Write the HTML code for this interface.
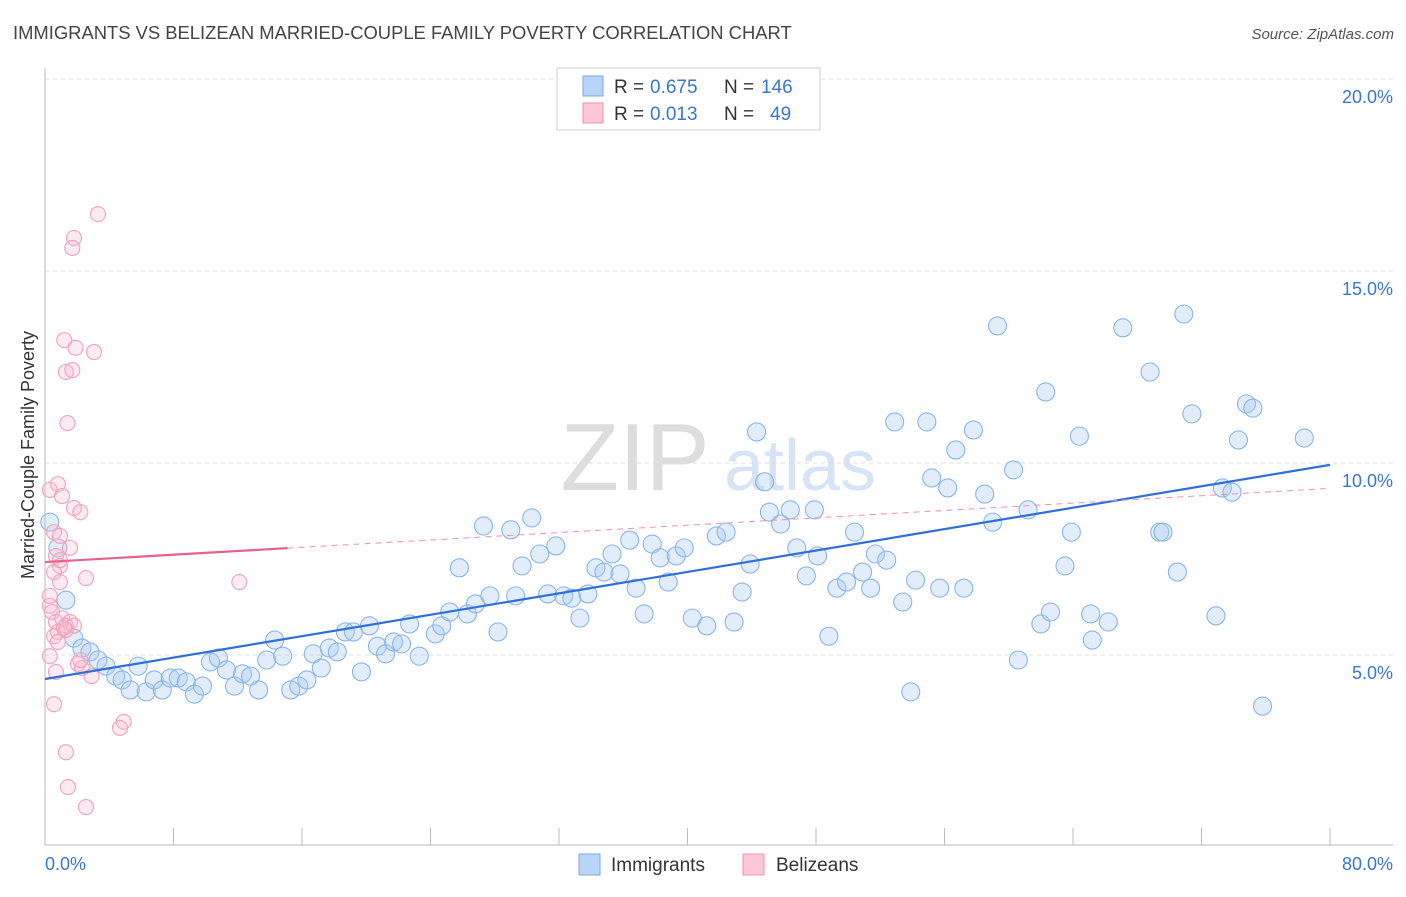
<!DOCTYPE html>
<html><head><meta charset="utf-8"><style>
body{margin:0;background:#fff;font-family:"Liberation Sans",sans-serif}
svg text{font-family:"Liberation Sans",sans-serif}
</style></head><body>
<svg id="c" width="1406" height="892">
<text x="13" y="39" font-size="18.4" fill="#444">IMMIGRANTS VS BELIZEAN MARRIED-COUPLE FAMILY POVERTY CORRELATION CHART</text>
<text x="1394" y="39" font-size="15" fill="#555" font-style="italic" text-anchor="end">Source: ZipAtlas.com</text>
<g><text x="635" y="490" font-size="96" fill="#ddd" font-family="Liberation Serif" text-anchor="middle">ZIP</text><text x="800" y="490" font-size="72" fill="#d6e4f5" text-anchor="middle">atlas</text></g>
<g id="grid"></g><g id="pts"></g><g id="lines"></g>
<text transform="translate(34,455) rotate(-90)" font-size="18" fill="#333" text-anchor="middle">Married-Couple Family Poverty</text>
<g>
<rect x="557" y="68" width="263" height="62" fill="#fff" stroke="#ccc"/>
<rect x="583" y="76" width="20" height="20" fill="#b8d4f8" stroke="#7aa8e0"/>
<text x="614" y="93" font-size="19" fill="#333">R =</text><text x="650" y="93" font-size="19" fill="#3a76d0">0.675</text>
<text x="724" y="93" font-size="19" fill="#333">N =</text><text x="761" y="93" font-size="19" fill="#3a76d0">146</text>
<rect x="583" y="103" width="20" height="20" fill="#fcc8d8" stroke="#f090b0"/>
<text x="614" y="120" font-size="19" fill="#333">R =</text><text x="650" y="120" font-size="19" fill="#3a76d0">0.013</text>
<text x="724" y="120" font-size="19" fill="#333">N =</text><text x="770" y="120" font-size="19" fill="#3a76d0">49</text>
</g>
<g>
<rect x="579" y="854" width="21" height="21" fill="#b8d4f8" stroke="#7aa8e0"/>
<text x="611" y="871" font-size="19" fill="#333">Immigrants</text>
<rect x="743" y="854" width="21" height="21" fill="#fcc8d8" stroke="#f090b0"/>
<text x="776" y="871" font-size="19" fill="#333">Belizeans</text>
</g>
</svg>
<script>
const yTicks=[5,10,15,20];
const yTickLabels=["5.0%","10.0%","15.0%","20.0%"];
const xTickVals=[0,8,16,24,32,40,48,56,64,72,80];
const xLabels=["0.0%","80.0%"];
const blueX=[0.3,0.8,1.3,1.8,2.3,2.8,3.3,3.8,4.4,4.8,5.3,5.8,6.3,6.8,7.3,7.8,8.3,8.8,9.3,9.8,10.3,10.8,11.3,11.8,12.3,12.8,13.3,13.8,14.3,14.8,15.3,15.8,16.3,16.7,17.2,17.7,18.2,18.7,19.2,19.7,20.2,20.7,21.2,21.7,22.2,22.7,23.3,24.3,24.7,25.2,25.8,26.3,26.8,27.3,27.7,28.2,29.0,29.3,29.7,30.3,30.8,31.3,31.8,32.3,32.8,33.3,33.8,34.3,34.8,35.3,35.8,36.4,36.8,37.3,37.8,38.3,38.8,39.3,39.8,40.3,41.2,41.8,42.4,42.9,43.4,43.9,44.3,44.8,45.1,45.8,46.4,46.8,47.4,47.9,48.1,48.8,49.3,49.9,50.4,50.9,51.4,51.7,52.4,52.9,53.4,53.9,54.2,54.9,55.2,55.7,56.2,56.7,57.2,57.8,58.5,59.0,59.3,60.3,60.6,61.2,62.0,62.3,62.6,63.5,63.9,64.4,65.1,65.2,66.2,67.1,68.8,69.4,69.6,70.5,70.9,71.4,72.9,73.3,73.9,74.3,74.8,75.2,75.8,78.4];
const blueY=[8.46,7.79,6.43,5.44,5.18,5.08,4.87,4.71,4.45,4.35,4.09,4.71,4.04,4.35,4.09,4.40,4.40,4.30,3.98,4.19,4.82,4.92,4.61,4.19,4.51,4.45,4.09,4.87,5.39,4.97,4.09,4.19,4.35,5.03,4.66,5.18,5.08,5.60,5.60,4.56,5.76,5.23,5.03,5.34,5.29,5.81,4.97,5.55,5.76,6.12,7.27,6.07,6.33,8.36,6.54,5.60,8.26,6.54,7.32,8.57,7.63,6.59,7.84,6.54,6.48,5.96,6.59,7.27,7.16,7.63,7.11,7.99,6.74,6.07,7.89,7.53,6.90,7.58,7.79,5.96,5.76,8.10,8.20,5.86,6.64,7.37,10.81,9.51,8.72,8.41,8.78,7.79,7.06,8.78,7.58,5.49,6.74,6.90,8.20,7.16,6.74,7.63,7.47,11.07,6.38,4.04,6.95,11.07,9.61,6.74,9.35,10.34,6.74,10.86,9.19,8.46,13.57,9.82,4.87,8.78,5.81,11.85,6.12,7.32,8.20,10.70,6.07,5.39,5.86,13.52,12.37,8.20,8.20,7.16,13.88,11.28,6.02,9.35,9.24,10.60,11.54,11.43,3.67,10.65];
const pinkX=[3.3,1.8,1.7,1.2,1.9,3.05,1.3,1.7,1.4,0.8,1.06,0.3,1.8,2.2,0.56,0.93,1.56,0.68,0.93,0.56,2.55,0.93,12.1,0.3,0.44,0.68,1.06,1.56,1.3,1.8,0.8,1.3,0.56,0.8,0.3,2.05,2.3,2.9,0.68,0.56,4.9,4.67,1.3,1.43,2.55,0.3,0.93,1.18,2.2];
const pinkY=[16.48,15.86,15.6,13.2,13.0,12.89,12.37,12.42,11.04,9.45,9.14,9.3,8.83,8.72,8.2,8.1,7.79,7.58,7.32,7.16,7.0,6.9,6.9,6.28,6.12,5.86,5.96,5.86,5.76,5.76,5.6,5.65,5.49,5.34,4.97,4.77,4.66,4.45,4.56,3.72,3.26,3.1,2.47,1.56,1.04,6.54,7.47,5.7,4.87];
const blueTrend=[4.375,0.0697];
const pinkTrend=[7.42,0.0240];
const NS="http://www.w3.org/2000/svg";
const X0=45,X1=1330,Y0=847,PXY=38.4;
const sx=v=>X0+(X1-X0)*v/80, sy=v=>Y0-v*PXY;
function mk(t,a,p){const e=document.createElementNS(NS,t);for(const k in a)e.setAttribute(k,a[k]);p.appendChild(e);return e;}
const g=document.getElementById('grid');
yTicks.forEach((v,i)=>{
 const l=mk('line',{x1:45,x2:1393,y1:sy(v),y2:sy(v),stroke:'#ddd','stroke-dasharray':'4,4'},g);
 
 
 const t=mk('text',{x:1393,y:sy(v)+24,'font-size':18,fill:'#3a76d0','text-anchor':'end'},g);
 t.textContent=yTickLabels[i];
 
 
});
const ax=mk('line',{x1:45,x2:45,y1:68,y2:845,stroke:'#bbb'},g);


const bx=mk('line',{x1:45,x2:1393,y1:845,y2:845,stroke:'#bbb'},g);


xTickVals.forEach(v=>{
 const t=mk('line',{x1:sx(v),x2:sx(v),y1:828,y2:845,stroke:'#bbb'},g);
 
 
});
[[0,'start'],[80,'end']].forEach((a,i)=>{
 const t=mk('text',{x:i?1393:45,y:870,'font-size':18,fill:'#3a76d0','text-anchor':a[1]},g);
 t.textContent=xLabels[i];
 
 
});
const p=document.getElementById('pts');
blueX.forEach((v,i)=>{
 const c=mk('circle',{cx:sx(v),cy:sy(blueY[i]),r:9,fill:'rgba(170,202,242,0.35)',stroke:'#8ab4e8','stroke-width':1.1},p);
 
 
});
pinkX.forEach((v,i)=>{
 const c=mk('circle',{cx:sx(v),cy:sy(pinkY[i]),r:7.5,fill:'rgba(250,190,208,0.3)',stroke:'#f3a0bc','stroke-width':1.1},p);
 
 
});
const L=document.getElementById('lines');
const b=mk('line',{x1:sx(0),y1:sy(blueTrend[0]),x2:sx(80),y2:sy(blueTrend[0]+80*blueTrend[1]),stroke:'#2f6fd8','stroke-width':2.2},L);


const pe=15.1;
const pd=mk('line',{x1:sx(pe),y1:sy(pinkTrend[0]+pe*pinkTrend[1]),x2:sx(80),y2:sy(pinkTrend[0]+80*pinkTrend[1]),stroke:'#f090b0','stroke-width':1,'stroke-dasharray':'6,5'},L);


const ps=mk('line',{x1:sx(0),y1:sy(pinkTrend[0]),x2:sx(pe),y2:sy(pinkTrend[0]+pe*pinkTrend[1]),stroke:'#e8608c','stroke-width':2.2},L);


</script>
</body></html>
